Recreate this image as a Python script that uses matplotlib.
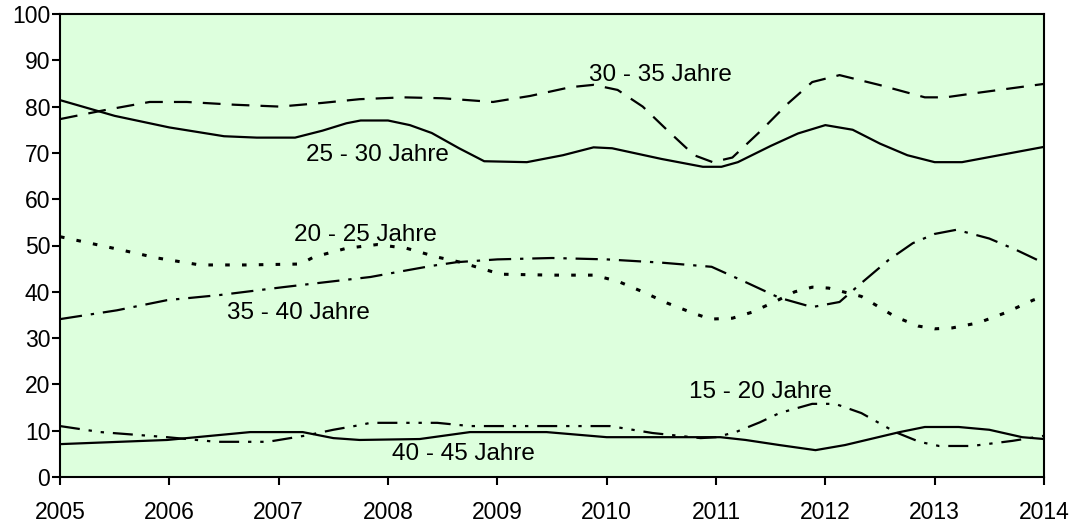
import matplotlib
matplotlib.use("agg")
import matplotlib.pyplot as plt

plt.rcParams['font.family'] = ['Liberation Sans', 'DejaVu Sans']

# age groups: (years, values)
yrs_25_30 = [2005, 2005.5, 2006, 2006.5, 2006.8, 2007.15, 2007.4, 2007.62, 2007.75, 2008.0, 2008.2, 2008.4,
             2008.65, 2008.88, 2009.27, 2009.6, 2009.88, 2010.05, 2010.5, 2010.88, 2011.05, 2011.2, 2011.5,
             2011.75, 2012.0, 2012.25, 2012.5, 2012.75, 2013.0, 2013.25, 2014]
val_25_30 = [81.4, 78, 75.5, 73.6, 73.3, 73.3, 74.8, 76.4, 77, 77, 76, 74.3,
             71, 68.2, 68, 69.5, 71.2, 71, 68.7, 67, 67, 68, 71.5,
             74.2, 76, 75, 72, 69.5, 68, 68, 71.3]

yrs_30_35 = [2005, 2005.4, 2005.82, 2006.16, 2006.6, 2007.01, 2007.4, 2007.74, 2008.14, 2008.5, 2008.96,
             2009.3, 2009.67, 2009.88, 2010.1, 2010.33, 2010.55, 2010.8, 2010.97, 2011.15, 2011.42,
             2011.65, 2011.88, 2012.13, 2012.49, 2012.91, 2013.1, 2013.4, 2014]
val_30_35 = [77.3, 79.2, 81, 81, 80.4, 80, 80.8, 81.6, 82, 81.8, 81,
             82.3, 84.2, 84.7, 83.6, 80, 75, 69.5, 68, 69, 75,
             80.5, 85.3, 86.8, 84.7, 82, 82, 83, 84.9]

yrs_20_25 = [2005, 2005.49, 2005.89, 2006.28, 2006.7, 2007.2, 2007.32, 2007.62, 2007.9, 2008.17, 2008.45,
             2008.66, 2009.03, 2009.5, 2009.88, 2010.1, 2010.33, 2010.55, 2010.79, 2010.95, 2011.15,
             2011.33, 2011.55, 2011.72, 2011.88, 2012.03, 2012.33, 2012.64, 2012.85, 2013.0, 2013.16,
             2013.4, 2013.65, 2013.9, 2014]
val_20_25 = [51.9, 49.4, 47.3, 45.8, 45.8, 46, 47.5, 49.4, 50.2, 49.4, 47.5,
             46.4, 43.8, 43.6, 43.6, 42.3, 40, 37.6, 35.4, 34.1, 34.3,
             35.6, 38, 40, 41, 40.8, 39, 34.6, 32.6, 32, 32.2,
             33.3, 35.5, 38.2, 39]

yrs_35_40 = [2005, 2005.52, 2005.98, 2006.46, 2007.04, 2007.4, 2007.84, 2008.14, 2008.4, 2008.63, 2009.0,
             2009.5, 2010.0, 2010.5, 2010.96, 2011.27, 2011.58, 2011.88, 2012.13, 2012.33, 2012.58,
             2012.8, 2013.0, 2013.2, 2013.5, 2013.75, 2014]
val_35_40 = [34.1, 36, 38.2, 39.3, 41, 42, 43.2, 44.5, 45.6, 46.4, 47,
             47.3, 47, 46.3, 45.4, 42.1, 38.7, 36.7, 37.8, 41.9, 46.9,
             50.5, 52.5, 53.4, 51.5, 49, 46.2]

yrs_15_20 = [2005, 2005.37, 2005.98, 2006.43, 2006.9, 2007.26, 2007.5, 2007.74, 2007.84, 2008.45, 2008.75,
             2009.3, 2009.88, 2010.03, 2010.42, 2010.86, 2011.0, 2011.18, 2011.4, 2011.58, 2011.88,
             2012.09, 2012.33, 2012.64, 2012.86, 2013.04, 2013.34, 2013.71, 2014]
val_15_20 = [11, 9.7, 8.6, 7.6, 7.6, 9, 10.2, 11.2, 11.7, 11.7, 11,
             11, 11, 11, 9.5, 8.4, 8.6, 9.7, 11.8, 13.8, 15.8,
             15.8, 13.8, 9.7, 7.6, 6.7, 6.7, 7.8, 8.9]

yrs_40_45 = [2005, 2005.98, 2006.74, 2007.22, 2007.5, 2007.74, 2008.29, 2008.75, 2009.45, 2010.0, 2010.49,
             2011.04, 2011.27, 2011.58, 2011.91, 2012.18, 2012.68, 2012.91, 2013.22, 2013.5, 2013.8, 2014]
val_40_45 = [7.1, 8, 9.7, 9.7, 8.4, 8, 8.2, 9.7, 9.7, 8.6, 8.6,
             8.6, 8, 6.9, 5.8, 6.9, 9.7, 10.8, 10.8, 10.2, 8.6, 8.2]

x_ticks = list(range(2005, 2015))
y_ticks = list(range(0, 101, 10))

fig = plt.figure(figsize=(10.72, 5.24), dpi=100)
ax = fig.add_axes([60 / 1072, 47 / 524, 984 / 1072, 463 / 524])
ax.set_facecolor('#ddffdd')

lw = 1.6
ax.plot(yrs_25_30, val_25_30, color='black', lw=lw, linestyle='-')
ax.plot(yrs_30_35, val_30_35, color='black', lw=lw, linestyle=(0, (8, 5)))
ax.plot(yrs_20_25, val_20_25, color='black', lw=lw + 0.6, linestyle=(0, (1.5, 4)))
ax.plot(yrs_35_40, val_35_40, color='black', lw=lw, linestyle=(0, (10, 4, 1.5, 4)))
ax.plot(yrs_15_20, val_15_20, color='black', lw=lw, linestyle=(0, (9, 4, 1.5, 4, 1.5, 4)))
ax.plot(yrs_40_45, val_40_45, color='black', lw=lw, linestyle='-')

# in-plot labels
fs = 17.5
ax.text(2010.49, 86.8, '30 - 35 Jahre', fontsize=fs, ha='center', va='center')
ax.text(2007.9, 69.5, '25 - 30 Jahre', fontsize=fs, ha='center', va='center')
ax.text(2007.79, 52.3, '20 - 25 Jahre', fontsize=fs, ha='center', va='center')
ax.text(2007.18, 35.4, '35 - 40 Jahre', fontsize=fs, ha='center', va='center')
ax.text(2011.41, 18.4, '15 - 20 Jahre', fontsize=fs, ha='center', va='center')
ax.text(2008.69, 5.0, '40 - 45 Jahre', fontsize=fs, ha='center', va='center')

ax.set_xlim(2005, 2014)
ax.set_ylim(0, 100)
ax.set_xticks(x_ticks)
ax.set_yticks(y_ticks)
ax.tick_params(axis='both', direction='out', length=6, width=1.5, labelsize=16.5, colors='black')
ax.tick_params(axis='x', pad=11)
ax.tick_params(axis='y', pad=1)
for s in ax.spines.values():
    s.set_linewidth(1.5)
    s.set_color('black')

plt.savefig('out.png', dpi=100)
plt.close()
